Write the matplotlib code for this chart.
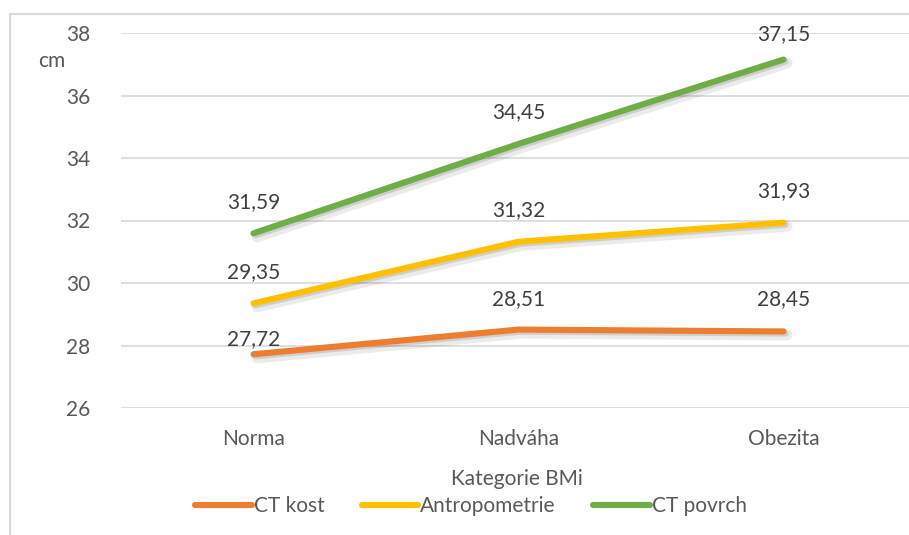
import numpy as np
import matplotlib
matplotlib.use("Agg")
import matplotlib.pyplot as plt
import matplotlib.patheffects as pe
from matplotlib.lines import Line2D

# data
categories = ["Norma", "Nadváha", "Obezita"]
ct_kost = [27.72, 28.51, 28.45]
antropometrie = [29.35, 31.32, 31.93]
ct_povrch = [31.59, 34.45, 37.15]

series_names = ["CT kost", "Antropometrie", "CT povrch"]
series_vals = [ct_kost, antropometrie, ct_povrch]
colors = ["#ED7D31", "#FFC000", "#70AD47"]
# label offsets above the point (pixels), a few nudged like in the original
label_offsets = [[15, 30, 32], [31, 32, 32], [31, 32, 25]]

plt.rcParams["font.family"] = ["Lato", "DejaVu Sans"]
TXT = "#595959"

W, H = 909, 535
fig = plt.figure(figsize=(W / 100, H / 100), dpi=100)
ax = fig.add_axes([121 / W, 1 - 408 / H, 795 / W, 375 / H])

x = np.arange(len(categories))
shadow = [pe.SimpleLineShadow(offset=(2.5, -2.5), shadow_color="black", alpha=0.08, linewidth=8),
          pe.SimpleLineShadow(offset=(1.5, -1.5), shadow_color="black", alpha=0.12),
          pe.Normal()]
for name, vals, c, offs in zip(series_names, series_vals, colors, label_offsets):
    ax.plot(x, vals, color=c, lw=4.4, solid_capstyle="round", solid_joinstyle="round",
            label=name, path_effects=shadow, zorder=3)
    for xi, v, o in zip(x, vals, offs):
        ax.annotate(f"{v:.2f}".replace(".", ","), (xi, v), xytext=(0, o),
                    textcoords="offset pixels", ha="center", va="center",
                    fontsize=15, color="#404040", zorder=4)

ax.set_xlim(-0.5, 2.5)
ax.set_ylim(26, 38)
ax.set_yticks(np.arange(26, 39, 2))
ax.set_xticks(x)
ax.set_xticklabels(categories)
ax.grid(axis="y", color="#D9D9D9", lw=1.2)
ax.set_axisbelow(True)
for s in ax.spines.values():
    s.set_visible(False)
ax.tick_params(length=0, labelsize=15, labelcolor=TXT)
ax.tick_params(axis="x", pad=15)
ax.tick_params(axis="y", pad=22)

ax.set_ylabel("cm", rotation=0, fontsize=15, color=TXT, ha="center", va="center")
ax.yaxis.set_label_coords(52 / W, 1 - 61 / H, transform=fig.transFigure)
ax.set_xlabel("Kategorie BMi", fontsize=15, color=TXT, ha="center", va="center")
ax.xaxis.set_label_coords(517 / W, 1 - 479 / H, transform=fig.transFigure)

leg = fig.legend(loc="center", bbox_to_anchor=(471 / W, 1 - 506 / H), ncol=3, frameon=False,
                 fontsize=15, handlelength=2.7, handletextpad=0.1, columnspacing=1.8,
                 labelcolor=TXT)
for h in leg.legend_handles:
    h.set_path_effects([])

# chart area border (left and top edges visible)
fig.add_artist(Line2D([10 / W, 10 / W], [0, 1 - 14 / H], color="#D9D9D9", lw=1.5))
fig.add_artist(Line2D([10 / W, 1], [1 - 14 / H, 1 - 14 / H], color="#D9D9D9", lw=1.5))

fig.savefig("out.png", dpi=100)
